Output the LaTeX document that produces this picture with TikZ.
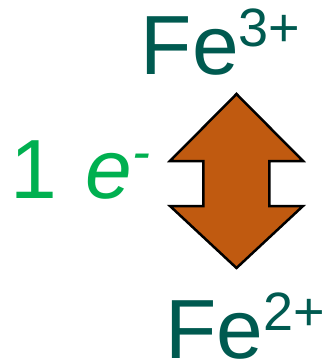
\documentclass[tikz,border=0pt]{standalone}
\usepackage{fontspec}
\setmainfont{Liberation Sans}
\definecolor{ironteal}{HTML}{005A50}
\definecolor{electrongreen}{HTML}{00B050}
\definecolor{arrowbrown}{HTML}{C05A10}
\tikzset{
  ionlabel/.style={anchor=base west, inner sep=0pt, text=ironteal, font=\fontsize{84}{84}\selectfont},
  elabel/.style={anchor=base west, inner sep=0pt, text=electrongreen, font=\fontsize{84}{84}\selectfont},
  redoxarrow/.style={fill=arrowbrown, draw=black, line width=2.5pt}
}
\newcommand{\supr}[1]{\raisebox{28pt}{\fontsize{54}{54}\selectfont #1}}
\begin{document}
\begin{tikzpicture}[x=1pt, y=-1pt]
  \useasboundingbox (0,0) rectangle (328,360);
  % Double arrow with notched shaft
  \draw[redoxarrow] (236.5,94) -- (303,161) -- (269.5,161) -- (269.5,206)
    -- (303,206) -- (236.5,268) -- (170,206) -- (203.5,206)
    -- (203.5,161) -- (170,161) -- cycle;
  % Ions
  \node[ionlabel] (ferric) at (140.6,74) {Fe\supr{3+}};
  \node[ionlabel] (ferrous) at (165,358) {Fe\supr{2+}};
  % Electron
  \node[elabel] (electron) at (10,198) {1\hspace{29pt}\textit{e}\supr{\itshape -}};
\end{tikzpicture}
\end{document}
